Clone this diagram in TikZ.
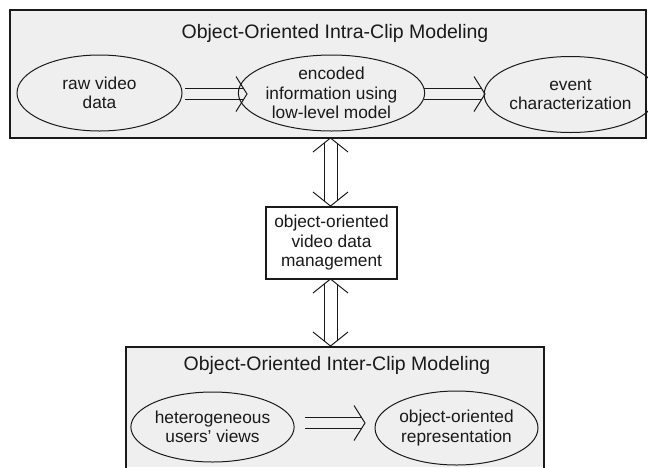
\documentclass[tikz,border=0pt]{standalone}
\usepackage{fontspec}
\setmainfont{Liberation Sans}
\usetikzlibrary{shapes.geometric}
\definecolor{panelgray}{HTML}{EFEFEF}
\definecolor{ink}{HTML}{1A1A1A}

% double-shaft arrow from #1 with its open head at #2, pointing right
\newcommand\dblright[2]{%
  \draw[conn] ([yshift=5.5pt]#1) -- ([shift={(-3.5pt,5.5pt)}]#2)
              ([yshift=-5.5pt]#1) -- ([shift={(-3.5pt,-5.5pt)}]#2);
  \draw[conn] ([shift={(-11pt,17.5pt)}]#2) -- (#2) -- ([shift={(-11pt,-17.5pt)}]#2);}

% vertical double-shaft arrow with open heads at #1 (upper) and #2 (lower)
\newcommand\dblvert[2]{%
  \draw[conn] ([shift={(-6.5pt,-5pt)}]#1) -- ([shift={(-6.5pt,5pt)}]#2)
              ([shift={(6.5pt,-5pt)}]#1) -- ([shift={(6.5pt,5pt)}]#2);
  \draw[conn] ([shift={(-17.5pt,-14pt)}]#1) -- (#1) -- ([shift={(17.5pt,-14pt)}]#1);
  \draw[conn] ([shift={(-17.5pt,14pt)}]#2) -- (#2) -- ([shift={(17.5pt,14pt)}]#2);}

\begin{document}
\begin{tikzpicture}[x=1pt,y=-1pt,
  body/.style={font=\fontsize{17.3}{19.5}\selectfont, text=ink, align=center},
  titletext/.style={font=\fontsize{19.5}{22}\selectfont, text=ink},
  panel/.style={draw=ink, line width=1.3pt, fill=panelgray, inner sep=0pt},
  oval/.style={ellipse, draw=ink, line width=1pt, inner sep=0pt, body},
  mgmtbox/.style={rectangle, draw=ink, line width=1.1pt, fill=white, inner sep=0pt, body},
  conn/.style={draw=ink, line width=1pt, line join=miter}]
\useasboundingbox (0,0) rectangle (648,467);

% intra-clip panel
\node[panel, minimum width=636pt, minimum height=128pt] (intra) at (328,74) {};
\node[titletext] (intraT) at (335,33) {Object-Oriented Intra-Clip Modeling};
\node[oval, minimum width=165pt, minimum height=76pt] (raw) at (99.5,93) {raw video\\data};
\node[oval, minimum width=171pt, minimum height=76pt] (enc) at (331.5,93) {encoded\\information using\\low-level model};
\node[oval, minimum width=155pt, minimum height=76pt] (event) at (570.5,94.5) {event\\characterization};

\coordinate (a1s) at (185,94);  \coordinate (a1t) at (247,94);
\coordinate (a2s) at (424,94);  \coordinate (a2t) at (485,94);
\dblright{a1s}{a1t}
\dblright{a2s}{a2t}

% central management box
\node[mgmtbox, minimum width=131pt, minimum height=72pt] (mgmt) at (331.5,243) {object-oriented\\video data\\management};

% inter-clip panel, open at the lower page edge
\fill[panelgray] (126,347) rectangle (544,467);
\draw[draw=ink, line width=1.3pt] (126,468) -- (126,347) -- (544,347) -- (544,468);
\coordinate (interTop) at (330.5,346);
\node[titletext] (interT) at (337,365) {Object-Oriented Inter-Clip Modeling};
\node[oval, minimum width=161pt, minimum height=70pt] (het) at (212.5,427) {heterogeneous\\users' views};
\node[oval, minimum width=163pt, minimum height=74pt] (rep) at (456.5,428) {object-oriented\\representation};

\coordinate (a3s) at (305,423);  \coordinate (a3t) at (365,423);
\dblright{a3s}{a3t}

% links between the panels and the management box
\coordinate (v1t) at (330.5,138); \coordinate (v1b) at (330.5,206);
\coordinate (v2t) at (330.5,279); \coordinate (v2b) at (interTop);
\dblvert{v1t}{v1b}
\dblvert{v2t}{v2b}
\end{tikzpicture}
\end{document}
